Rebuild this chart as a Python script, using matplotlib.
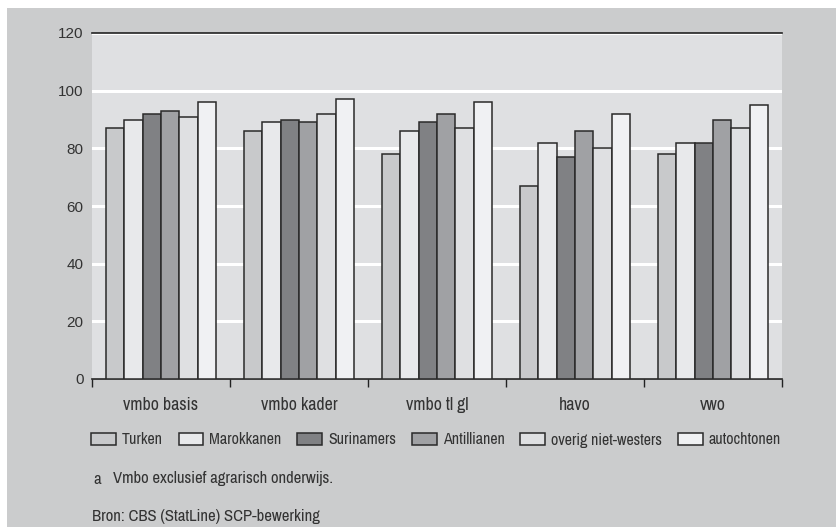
import numpy as np
import matplotlib.pyplot as plt
from matplotlib.patches import Rectangle
from matplotlib import font_manager

# prefer a condensed face if one is installed
names = sorted({f.name for f in font_manager.fontManager.ttflist})
narrow = [n for n in names if 'Narrow' in n or 'Condensed' in n]
if narrow:
    plt.rcParams['font.family'] = [narrow[0], 'DejaVu Sans']
    scale = 1.0
else:
    plt.rcParams['font.family'] = ['Liberation Sans', 'DejaVu Sans']
    scale = 0.85

categories = ['vmbo basis', 'vmbo kader', 'vmbo tl gl', 'havo', 'vwo']
groups = ['Turken', 'Marokkanen', 'Surinamers', 'Antillianen', 'overig niet-westers', 'autochtonen']
turken = [87, 86, 78, 67, 78]
marokkanen = [90, 89, 86, 82, 82]
surinamers = [92, 90, 89, 77, 82]
antillianen = [93, 89, 92, 86, 90]
overig = [91, 92, 87, 80, 87]
autochtonen = [96, 97, 96, 92, 95]
series = [turken, marokkanen, surinamers, antillianen, overig, autochtonen]
colors = ['#c8c9cb', '#e8e9eb', '#808184', '#a0a1a4', '#dfe0e2', '#f0f1f3']

txt = '#333333'
W, H = 837, 529
fig = plt.figure(figsize=(W / 100, H / 100), dpi=100, facecolor='white')
# grey panel behind everything
fig.patches.append(Rectangle((7 / W, 2 / H), (W - 7) / W, (H - 10) / H,
                             transform=fig.transFigure, facecolor='#cbcccd',
                             edgecolor='none', zorder=-10))

ax = fig.add_axes([92 / W, 1 - 379 / H, (782 - 92) / W, (379 - 33) / H])
ax.set_facecolor('#dfe0e2')

x = np.arange(len(categories))
bw = 0.8 / len(groups)
for i, (vals, c, name) in enumerate(zip(series, colors, groups)):
    ax.bar(x - 0.4 + bw * (i + 0.5), vals, width=bw, color=c, edgecolor='#2a2a2a',
           linewidth=1.1, label=name, zorder=3)

ax.set_xlim(-0.5, len(categories) - 0.5)
ax.set_ylim(0, 120)
ax.set_yticks(range(0, 121, 20))
ax.set_yticklabels([str(v) for v in range(0, 121, 20)],
                   family=['Liberation Sans', 'DejaVu Sans'], fontsize=11)
ax.yaxis.grid(True, color='white', linewidth=2.2, zorder=1)
ax.set_axisbelow(True)

ax.set_xticks(np.arange(-0.5, len(categories), 1.0))
ax.set_xticklabels([])
ax.set_xticks(x, minor=True)
ax.set_xticklabels(categories, minor=True)
ax.tick_params(axis='x', which='major', direction='out', length=6, width=1, color='#222222')
ax.tick_params(axis='x', which='minor', length=0, pad=13, labelsize=12.8 * scale, labelcolor=txt)
ax.tick_params(axis='y', length=0, pad=6, labelcolor=txt)

for s in ['left', 'right']:
    ax.spines[s].set_visible(False)
ax.spines['top'].set_color('#222222')
ax.spines['top'].set_linewidth(1.2)
ax.spines['bottom'].set_color('#222222')
ax.spines['bottom'].set_linewidth(1.2)

lfs = 11.5 * scale
handles, labels = ax.get_legend_handles_labels()
leg = fig.legend(handles, labels, ncol=6, loc='center left',
                 bbox_to_anchor=(91 / W, 1 - 440 / H), frameon=False,
                 borderpad=0, borderaxespad=0,
                 fontsize=lfs, handlelength=1.56, handleheight=0.75,
                 handletextpad=0.375, columnspacing=0.98)
for t in leg.get_texts():
    t.set_color(txt)

fig.text(93 / W, 1 - 479 / H, 'a', fontsize=12 * scale, color=txt, va='center')
fig.text(113 / W, 1 - 479 / H, 'Vmbo exclusief agrarisch onderwijs.',
         fontsize=12 * scale, color=txt, va='center')
fig.text(92 / W, 1 - 517 / H, 'Bron: CBS (StatLine) SCP-bewerking',
         fontsize=12 * scale, color=txt, va='center')

fig.savefig('out.png', dpi=100, facecolor=fig.get_facecolor())
